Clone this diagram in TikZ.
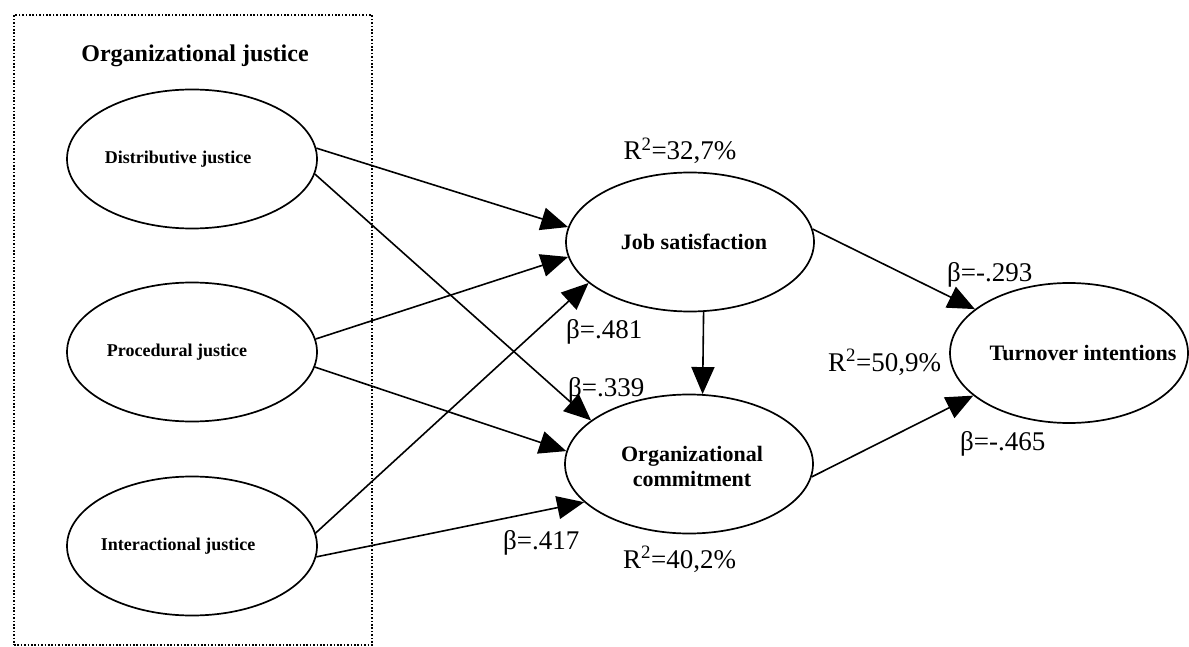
\documentclass[tikz,border=0pt]{standalone}
\usepackage{fontspec}
\setmainfont{Liberation Serif}
\usetikzlibrary{arrows.meta,shapes.geometric}
\begin{document}
\begin{tikzpicture}[x=1pt,y=-1pt,
  latent/.style={draw, ellipse, line width=1.7pt, inner sep=0pt},
  leftvar/.style={latent, minimum width=250pt, minimum height=139pt},
  midvar/.style={latent, minimum width=248pt, minimum height=139pt},
  turnvar/.style={latent, minimum width=238pt, minimum height=140pt},
  lbl/.style={font=\fontsize{18}{20}\selectfont\bfseries, inner sep=0pt},
  blbl/.style={font=\fontsize{22}{25}\selectfont\bfseries, align=center, inner sep=0pt},
  coef/.style={font=\fontsize{27}{30}\selectfont, inner sep=0pt},
  effect/.style={line width=1.6pt, -{Triangle[length=27pt,width=23pt]}},
  groupbox/.style={draw, line width=2.6pt, dash pattern=on 1.6pt off 1.8pt, inner sep=0pt},
]
\useasboundingbox (0,0) rectangle (1189,647);
% group box
\node[groupbox, minimum width=358pt, minimum height=630pt] (box) at (193,330) {};
\node[anchor=base, font=\fontsize{24}{27}\selectfont\bfseries, inner sep=0pt] (title) at (195,62) {Organizational justice};

% exogenous
\node[leftvar] (dist) at (192,159) {};
\node[lbl] (distT) at (178,159) {Distributive justice};
\node[leftvar] (proc) at (192,352) {};
\node[lbl] (procT) at (177,352) {Procedural justice};
\node[leftvar] (inter) at (192,546) {};
\node[lbl] (interT) at (178,546) {Interactional justice};

% endogenous
\node[midvar] (job) at (690,242) {};
\node[blbl] (jobT) at (694,242) {Job satisfaction};
\node[midvar] (org) at (689,464) {};
\node[blbl] (orgT) at (692,466) {Organizational\\commitment};
\node[turnvar] (turn) at (1069,353) {};
\node[blbl] (turnT) at (1083,353) {Turnover intentions};

% paths
\draw[effect] (dist.5.5) -- (job.173);
\draw[effect] (dist.-7.3) -- (org.156);
\draw[effect] (proc.6) -- (job.187);
\draw[effect] (proc.-7) -- (org.174);
\draw[effect] (inter.6.4) -- (job.202.7);
\draw[effect] (inter.-5) -- (org.200.8);
\draw[effect] (job.6.5) -- (turn.155);
\draw[effect] (org.-6) -- (turn.204.8);
\draw[effect] (job.-79) -- (org.79);

% coefficients
\node[coef, anchor=base] (r1) at (680,160) {R\textsuperscript{2}=32,7\%};
\node[coef, anchor=base west] (b1) at (566,338) {β=.481};
\node[coef, anchor=base west] (b2) at (568,396) {β=.339};
\node[coef, anchor=base west] (b3) at (503,549) {β=.417};
\node[coef, anchor=base west] (r2) at (623,568) {R\textsuperscript{2}=40,2\%};
\node[coef, anchor=base west] (b4) at (947,281) {β=-.293};
\node[coef, anchor=base west] (r3) at (828,371) {R\textsuperscript{2}=50,9\%};
\node[coef, anchor=base west] (b5) at (960,450) {β=-.465};
\end{tikzpicture}
\end{document}
